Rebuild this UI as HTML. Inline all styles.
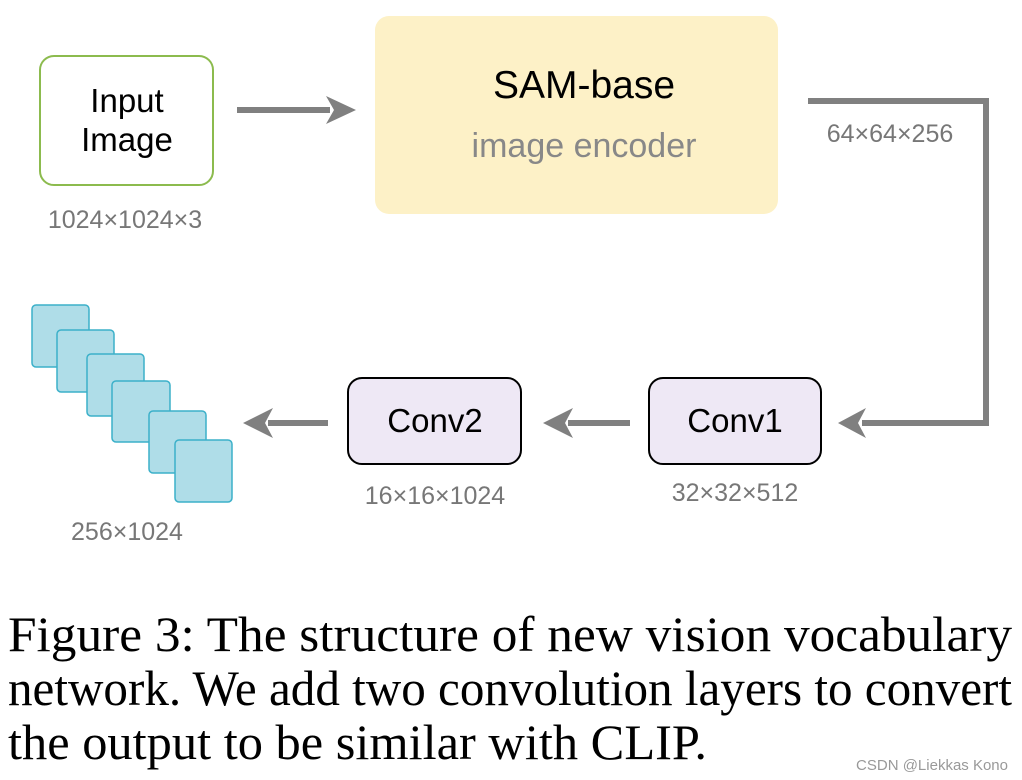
<!DOCTYPE html>
<html><head><style>body{margin:0;background:#fff}svg{display:block}</style></head><body>
<svg width="1022" height="780" viewBox="0 0 1022 780" xmlns="http://www.w3.org/2000/svg">
<g font-family="Liberation Sans, sans-serif">
<rect x="40" y="56" width="173" height="129" rx="14" fill="#fff" stroke="#8cbb4e" stroke-width="2"/>
<text x="127" y="112" font-size="33" text-anchor="middle">Input</text>
<text x="127" y="151" font-size="33" text-anchor="middle">Image</text>
<text x="125" y="228" font-size="25" fill="#777" text-anchor="middle">1024×1024×3</text>
<line x1="237" y1="110" x2="330" y2="110" stroke="#808080" stroke-width="6"/>
<polygon points="356,110 326,96 334,110 326,124" fill="#808080"/>
<rect x="375" y="16" width="403" height="198" rx="14" fill="#fdf1c7"/>
<text x="584" y="98" font-size="39" text-anchor="middle">SAM-base</text>
<text x="584" y="157" font-size="34" fill="#888" text-anchor="middle">image encoder</text>
<polyline points="808,101 986,101 986,423 862,423" fill="none" stroke="#808080" stroke-width="6"/>
<polygon points="838,423 866,408 858,423 866,438" fill="#808080"/>
<text x="890" y="142" font-size="25" fill="#777" text-anchor="middle">64×64×256</text>
<rect x="649" y="378" width="172" height="86" rx="14" fill="#eee8f5" stroke="#000" stroke-width="2"/>
<text x="735" y="432" font-size="33" text-anchor="middle">Conv1</text>
<text x="735" y="501" font-size="25" fill="#777" text-anchor="middle">32×32×512</text>
<line x1="568" y1="423" x2="630" y2="423" stroke="#808080" stroke-width="6"/>
<polygon points="543,423 573,408 565,423 573,438" fill="#808080"/>
<rect x="348" y="378" width="173" height="86" rx="14" fill="#eee8f5" stroke="#000" stroke-width="2"/>
<text x="435" y="432" font-size="33" text-anchor="middle">Conv2</text>
<text x="435" y="504" font-size="25" fill="#777" text-anchor="middle">16×16×1024</text>
<line x1="268" y1="423" x2="328" y2="423" stroke="#808080" stroke-width="6"/>
<polygon points="243,423 273,408 265,423 273,438" fill="#808080"/>
<g fill="#afdde8" stroke="#3bb0c9" stroke-width="1.5">
<rect x="32" y="305" width="57" height="62" rx="4"/>
<rect x="57" y="330" width="57" height="62" rx="4"/>
<rect x="87" y="354" width="57" height="62" rx="4"/>
<rect x="112" y="381" width="58" height="61" rx="4"/>
<rect x="149" y="411" width="57" height="62" rx="4"/>
<rect x="175" y="440" width="57" height="62" rx="4"/>
</g>
<text x="127" y="540" font-size="25" fill="#777" text-anchor="middle">256×1024</text>
</g>
<g font-family="Liberation Serif, serif" font-size="50">
<text x="8" y="651" textLength="1004" lengthAdjust="spacingAndGlyphs">Figure 3: The structure of new vision vocabulary</text>
<text x="8" y="705" textLength="1004" lengthAdjust="spacingAndGlyphs">network. We add two convolution layers to convert</text>
<text x="8" y="759" textLength="699" lengthAdjust="spacingAndGlyphs">the output to be similar with CLIP.</text>
</g>
<text x="1008" y="770" font-family="Liberation Sans, sans-serif" font-size="15" fill="#999" text-anchor="end">CSDN @Liekkas Kono</text>
</svg>
</body></html>
